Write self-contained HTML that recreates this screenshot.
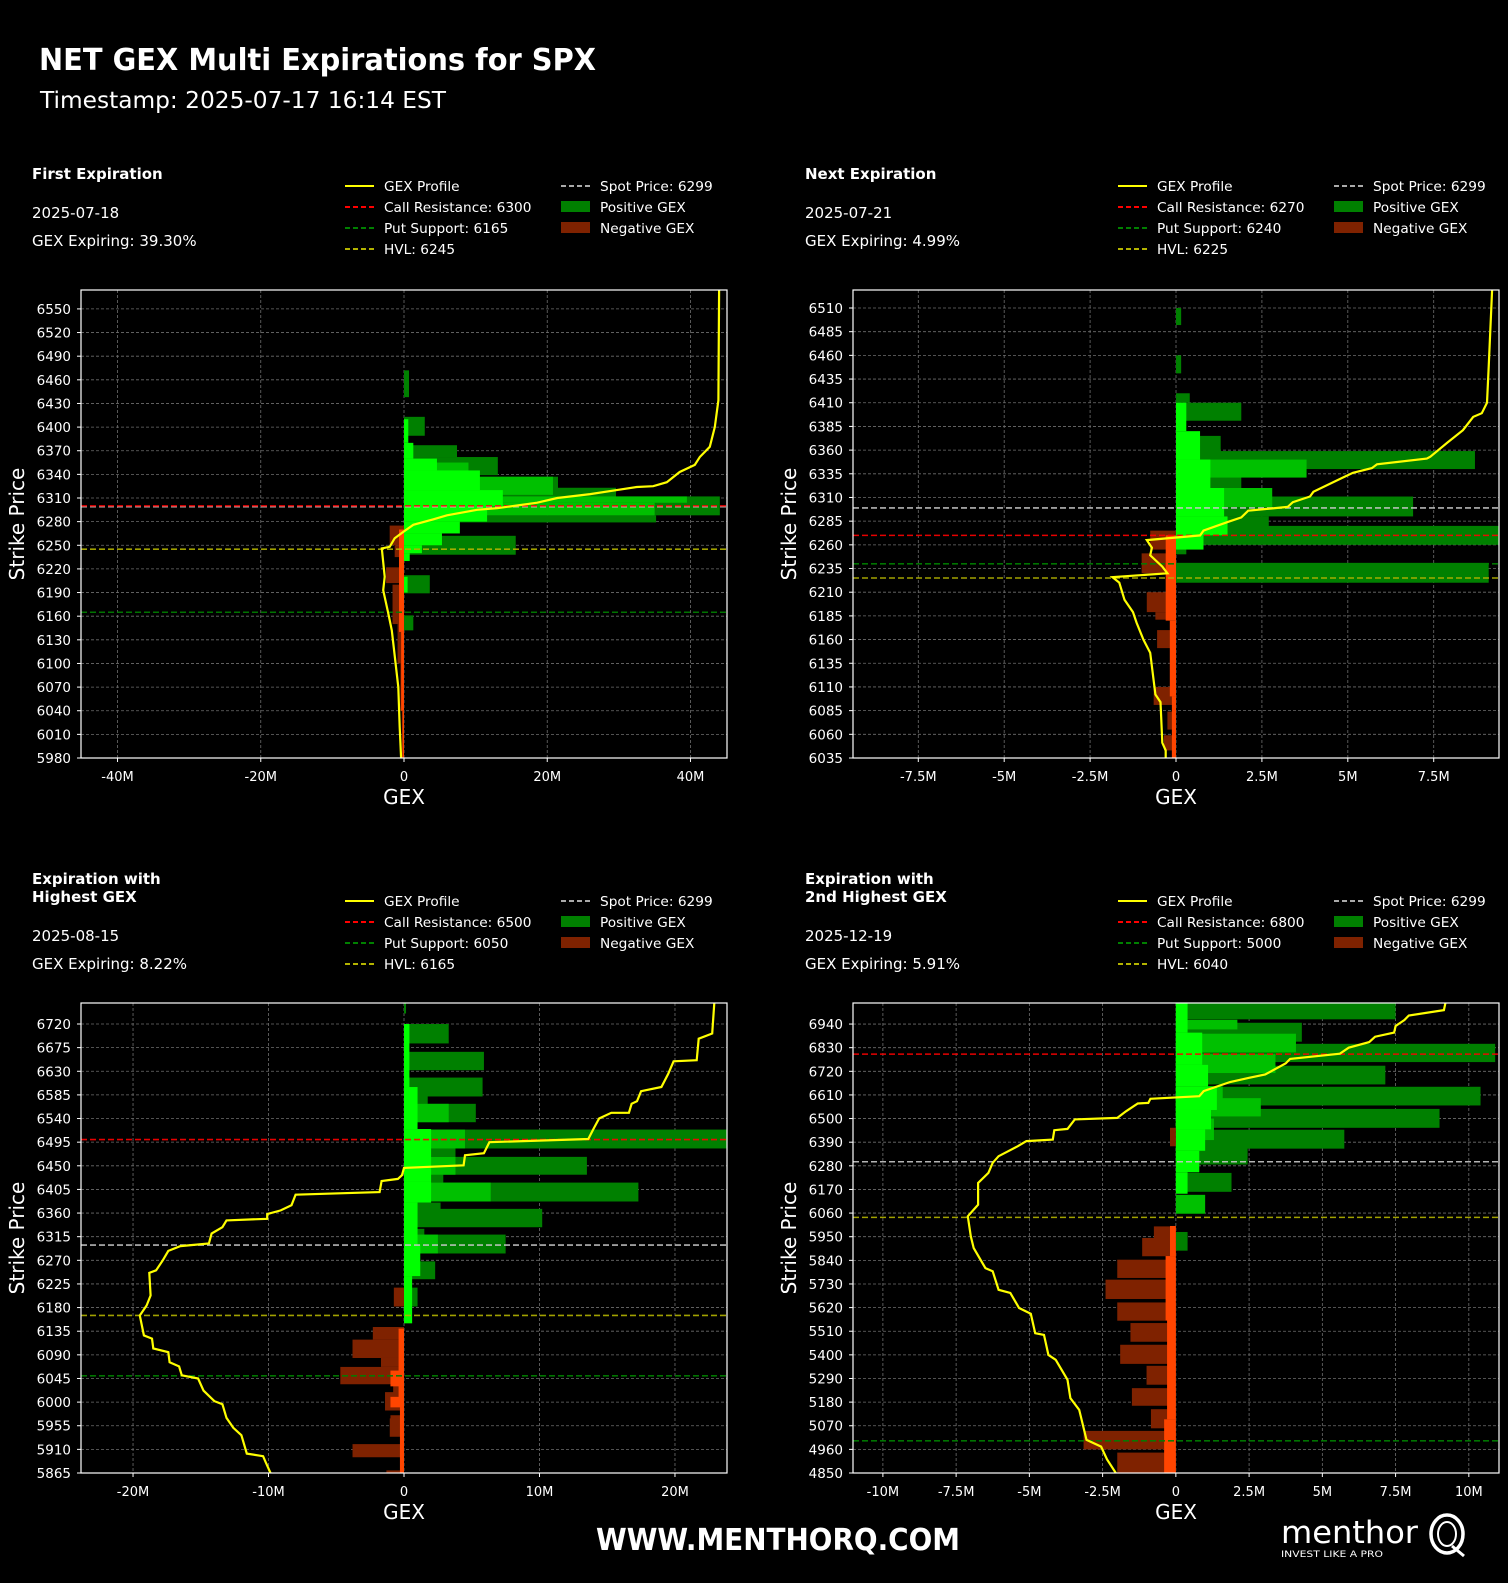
<!DOCTYPE html>
<html><head><meta charset="utf-8"><title>NET GEX Multi Expirations for SPX</title>
<style>
html,body{margin:0;padding:0;background:#000;}
svg{display:block;}
text{font-family:"DejaVu Sans","Liberation Sans",sans-serif;fill:#fff;}
</style></head>
<body>
<svg id="chart" width="1508" height="1583" viewBox="0 0 1508 1583" xmlns="http://www.w3.org/2000/svg">
<rect x="0" y="0" width="1508" height="1583" fill="#000"/>
<text x="39" y="70" font-size="30" font-weight="bold" textLength="557" lengthAdjust="spacingAndGlyphs">NET GEX Multi Expirations for SPX</text>
<text x="40" y="108" font-size="23" textLength="406" lengthAdjust="spacingAndGlyphs">Timestamp: 2025-07-17 16:14 EST</text>
<text x="778" y="1550" font-size="30" font-weight="bold" text-anchor="middle" textLength="364" lengthAdjust="spacingAndGlyphs">WWW.MENTHORQ.COM</text>
<g>
<text x="1281" y="1543" font-size="31" textLength="137" lengthAdjust="spacingAndGlyphs">menthor</text>
<text x="1281" y="1557" font-size="9" textLength="102" lengthAdjust="spacingAndGlyphs">INVEST LIKE A PRO</text>
<ellipse cx="1447" cy="1534" rx="16" ry="19" fill="none" stroke="#fff" stroke-width="3.5"/>
<ellipse cx="1447" cy="1534" rx="9" ry="12" fill="none" stroke="#fff" stroke-width="2"/>
<line x1="1452" y1="1546" x2="1464" y2="1556" stroke="#fff" stroke-width="3"/>
</g>
</svg>
<script>
// ---------- Panel 1 data (2025-07-18) ----------
const p1YTicks = [5980,6010,6040,6070,6100,6130,6160,6190,6220,6250,6280,6310,6340,6370,6400,6430,6460,6490,6520,6550];
const p1XTicks = [-40,-20,0,20,40];
const p1XLabels = ['-40M','-20M','0','20M','40M'];
const p1DarkPos = [[6438,6472,0.7],[6389,6413,2.9],[6362,6377,7.4],[6339,6362,13.1],[6314,6337,21.5],[6304,6323,29.6],[6288,6312,44.1],[6279,6288,35.2],[6238,6262,15.6],[6189,6212,3.6],[6142,6161,1.3]];
const p1MidPos = [[6304,6312,39.5],[6288,6304,35],[6314,6337,20.8],[6339,6355,9]];
const p1LimePos = [[6380,6410,0.6],[6360,6380,1.3],[6345,6360,4.6],[6320,6345,10.6],[6300,6320,13.8],[6280,6300,11.6],[6265,6280,7.8],[6250,6265,5.3],[6240,6250,2.5],[6230,6240,0.8],[6190,6210,0.5]];
const p1DarkNeg = [[6250,6275,-2.0],[6235,6250,-1.3],[6202,6222,-2.5],[6150,6200,-1.6],[6100,6150,-0.9],[6040,6100,-0.5],[5980,6040,-0.3]];
const p1BrightNeg = [[6140,6270,-0.7],[6040,6140,-0.4],[5980,6040,-0.2]];
const p1ProfileGex = [44.0,43.9,43.4,42.7,41.3,40.6,38.5,36.7,34.8,32.5,29.7,26.0,21.4,18.6,13.0,10.2,6.0,4.1,1.3,-0.1,-1.3,-2.0,-3.1,-2.7,-2.9,-2.2,-1.7,-0.8,-0.6,-0.4];
const p1ProfileStrike = [6575,6434,6400,6375,6362,6352,6343,6330,6325,6324,6320,6315,6310,6304,6297,6295,6288,6283,6276,6267,6259,6248,6246,6210,6193,6164,6142,6070,6019,5980];
const p1Levels = {spot:6299, call:6300, put:6165, hvl:6245};

// ---------- Panel 2 data (2025-07-21) ----------
const p2YTicks = [6035,6060,6085,6110,6135,6160,6185,6210,6235,6260,6285,6310,6335,6360,6385,6410,6435,6460,6485,6510];
const p2XTicks = [-7.5,-5,-2.5,0,2.5,5,7.5];
const p2XLabels = ['-7.5M','-5M','-2.5M','0','2.5M','5M','7.5M'];
const p2DarkPos = [[6492,6510,0.15],[6441,6460,0.15],[6410,6420,0.4],[6391,6410,1.9],[6355,6375,1.3],[6340,6359,8.7],[6320,6340,1.9],[6290,6311,6.9],[6271,6290,2.7],[6260,6280,9.4],[6250,6260,0.3],[6220,6241,9.1]];
const p2MidPos = [[6331,6350,3.8],[6300,6320,2.8]];
const p2LimePos = [[6380,6410,0.3],[6350,6380,0.7],[6320,6350,1.0],[6290,6320,1.4],[6270,6290,1.5],[6255,6270,0.8]];
const p2DarkNeg = [[6255,6275,-0.75],[6230,6251,-1.0],[6189,6210,-0.85],[6181,6189,-0.6],[6151,6170,-0.55],[6091,6110,-0.65],[6065,6084,-0.25],[6043,6059,-0.35]];
const p2BrightNeg = [[6180,6270,-0.3],[6100,6180,-0.18],[6035,6100,-0.12]];
const p2ProfileGex = [9.2,9.1,9.05,8.9,8.65,8.35,7.9,7.4,7.3,5.85,5.7,5.15,4.85,4.0,3.9,3.4,3.25,2.1,1.9,1.5,0.8,0.7,-0.85,-0.7,-0.75,-0.4,-0.25,-1.85,-1.65,-1.5,-1.25,-1.15,-0.95,-0.75,-0.6,-0.45,-0.4,-0.3,-0.3];
const p2ProfileStrike = [6529,6448,6410,6399,6395,6381,6368,6353,6351,6345,6341,6336,6331,6316,6311,6305,6300,6296,6289,6284,6275,6270,6265,6257,6249,6237,6230,6226,6220,6202,6189,6178,6160,6146,6102,6094,6051,6043,6035];
const p2Levels = {spot:6299, call:6270, put:6240, hvl:6225};

// ---------- Panel 3 data (2025-08-15) ----------
const p3YTicks = [5865,5910,5955,6000,6045,6090,6135,6180,6225,6270,6315,6360,6405,6450,6495,6540,6585,6630,6675,6720];
const p3XTicks = [-20,-10,0,10,20];
const p3XLabels = ['-20M','-10M','0','10M','20M'];
const p3DarkPos = [[6740,6760,0.15],[6683,6720,3.3],[6632,6667,5.9],[6582,6618,5.8],[6560,6600,1.75],[6533,6568,5.3],[6483,6519,23.8],[6467,6490,3.8],[6433,6467,13.5],[6418,6434,2.9],[6382,6418,17.3],[6360,6380,2.7],[6333,6368,10.2],[6310,6330,1.5],[6283,6319,7.5],[6234,6268,2.3],[6182,6218,1.0]];
const p3MidPos = [[6533,6568,3.3],[6483,6519,4.5],[6433,6467,3.8],[6382,6418,6.4],[6283,6319,2.5]];
const p3LimePos = [[6600,6720,0.4],[6520,6600,1.0],[6420,6520,2.0],[6380,6420,2.0],[6300,6380,1.0],[6240,6300,1.2],[6150,6240,0.6]];
const p3DarkNeg = [[6182,6218,-0.75],[6119,6143,-2.3],[6084,6119,-3.8],[6067,6084,-1.7],[6034,6067,-4.7],[6000,6034,-0.8],[5984,6019,-1.4],[5955,5975,-1.0],[5934,5969,-1.05],[5895,5920,-3.8],[5865,5870,-1.3]];
const p3BrightNeg = [[6000,6140,-0.4],[6030,6060,-1.0],[5865,6000,-0.3],[5990,6010,-1.0]];
const p3ProfileGex = [22.9,22.75,21.75,21.6,19.9,19.5,19.0,17.5,17.2,16.8,16.6,15.3,14.4,14.0,13.6,6.3,5.9,4.5,4.4,0.0,-0.15,-0.45,-1.65,-1.8,-8.0,-8.3,-9.1,-10.1,-10.1,-13.1,-13.4,-14.2,-14.4,-16.5,-17.4,-17.8,-18.3,-18.8,-18.7,-19.0,-19.5,-19.2,-18.6,-18.5,-17.4,-17.3,-16.6,-16.4,-15.2,-14.8,-14.0,-13.4,-13.1,-12.6,-12.0,-11.6,-10.4,-10.2,-9.85];
const p3ProfileStrike = [6760,6702,6692,6651,6649,6625,6600,6592,6573,6568,6551,6551,6540,6521,6501,6495,6474,6470,6451,6446,6432,6425,6421,6400,6395,6375,6365,6358,6349,6346,6333,6321,6302,6297,6288,6270,6251,6246,6203,6184,6165,6127,6121,6102,6095,6076,6068,6051,6045,6022,6002,5996,5970,5951,5937,5902,5897,5885,5865];
const p3Levels = {spot:6299, call:6500, put:6050, hvl:6165};

// ---------- Panel 4 data (2025-12-19) ----------
const p4YTicks = [4850,4960,5070,5180,5290,5400,5510,5620,5730,5840,5950,6060,6170,6280,6390,6500,6610,6720,6830,6940];
const p4XTicks = [-10,-7.5,-5,-2.5,0,2.5,5,7.5,10];
const p4XLabels = ['-10M','-7.5M','-5M','-2.5M','0','2.5M','5M','7.5M','10M'];
const p4DarkPos = [[6962,7040,7.5],[6858,6946,4.3],[6763,6848,10.9],[6659,6746,7.15],[6561,6648,10.4],[6457,6545,9.0],[6360,6448,5.75],[6286,6371,2.45],[6159,6247,1.9],[5885,5972,0.4]];
const p4MidPos = [[6915,6960,2.1],[6808,6895,4.1],[6712,6800,3.4],[6510,6595,2.9],[6057,6145,1.0],[6540,6650,1.6],[6400,6500,1.3]];
const p4LimePos = [[6900,7038,0.4],[6750,6900,0.9],[6650,6750,1.1],[6540,6650,1.4],[6450,6540,1.2],[6350,6450,1.0],[6250,6350,0.8],[6150,6250,0.4]];
const p4DarkNeg = [[6371,6457,-0.2],[5944,5998,-0.75],[5859,5944,-1.15],[5758,5843,-2.0],[5660,5750,-2.4],[5559,5644,-2.0],[5461,5548,-1.55],[5358,5447,-1.9],[5261,5349,-1.0],[5163,5245,-1.5],[5058,5147,-0.85],[4960,5046,-3.15],[4850,4945,-2.0]];
const p4BrightNeg = [[5860,6000,-0.2],[5560,5860,-0.35],[5100,5560,-0.3],[4850,5100,-0.4]];
const p4ProfileGex = [9.2,9.15,7.95,7.8,7.5,7.45,6.8,6.6,5.9,5.6,3.9,3.75,3.05,2.5,1.85,0.95,0.8,-0.87,-0.94,-1.3,-1.7,-2.0,-3.45,-3.7,-4.15,-4.2,-5.1,-5.4,-6.05,-6.25,-6.4,-6.75,-6.75,-6.9,-7.1,-7.0,-6.9,-6.5,-6.25,-6.05,-5.65,-5.35,-4.95,-4.8,-4.5,-4.35,-4.1,-3.7,-3.6,-3.3,-3.05,-2.55,-2.35,-2.05];
const p4ProfileStrike = [7038,7005,6980,6959,6931,6900,6881,6856,6830,6802,6778,6757,6705,6690,6670,6628,6604,6592,6573,6570,6534,6503,6496,6452,6446,6402,6395,6371,6325,6294,6247,6200,6099,6076,6045,5952,5897,5804,5789,5703,5688,5618,5591,5501,5493,5400,5377,5284,5198,5144,5004,4973,4914,4850];
const p4Levels = {spot:6299, call:6800, put:5000, hvl:6040};

const NS = 'http://www.w3.org/2000/svg';
const svg = document.getElementById('chart');
function mk(tag, attrs, parent){
  const e = document.createElementNS(NS, tag);
  for (const k in attrs) e.setAttribute(k, attrs[k]);
  (parent||svg).appendChild(e);
  return e;
}

const panels = [
  {id:'p1', x0:81, x1:727, y0:290, y1:758, xmin:-45.1, xmax:45.1, ymin:5980, ymax:6574, hx:32, hdr:['First Expiration'], date:'2025-07-18', pct:'39.30%', hy:179, ly:186,
   yt:p1YTicks, xt:p1XTicks, xl:p1XLabels, dp:p1DarkPos, mp:p1MidPos, lp:p1LimePos, dn:p1DarkNeg, bn:p1BrightNeg, pg:p1ProfileGex, ps:p1ProfileStrike, lv:p1Levels},
  {id:'p2', x0:853, x1:1499, y0:290, y1:758, xmin:-9.40, xmax:9.40, ymin:6035, ymax:6529, hx:805, hdr:['Next Expiration'], date:'2025-07-21', pct:'4.99%', hy:179, ly:186,
   yt:p2YTicks, xt:p2XTicks, xl:p2XLabels, dp:p2DarkPos, mp:p2MidPos, lp:p2LimePos, dn:p2DarkNeg, bn:p2BrightNeg, pg:p2ProfileGex, ps:p2ProfileStrike, lv:p2Levels},
  {id:'p3', x0:81, x1:727, y0:1003, y1:1473, xmin:-23.84, xmax:23.84, ymin:5865, ymax:6760, hx:32, hdr:['Expiration with','Highest GEX'], date:'2025-08-15', pct:'8.22%', hy:884, ly:901,
   yt:p3YTicks, xt:p3XTicks, xl:p3XLabels, dp:p3DarkPos, mp:p3MidPos, lp:p3LimePos, dn:p3DarkNeg, bn:p3BrightNeg, pg:p3ProfileGex, ps:p3ProfileStrike, lv:p3Levels},
  {id:'p4', x0:853, x1:1499, y0:1003, y1:1473, xmin:-11.02, xmax:11.03, ymin:4850, ymax:7038, hx:805, hdr:['Expiration with','2nd Highest GEX'], date:'2025-12-19', pct:'5.91%', hy:884, ly:901,
   yt:p4YTicks, xt:p4XTicks, xl:p4XLabels, dp:p4DarkPos, mp:p4MidPos, lp:p4LimePos, dn:p4DarkNeg, bn:p4BrightNeg, pg:p4ProfileGex, ps:p4ProfileStrike, lv:p4Levels}
];

panels.forEach(P => {
  const g = mk('g', {});
  
  
  const xs = v => P.x0 + (v - P.xmin) / (P.xmax - P.xmin) * (P.x1 - P.x0);
  const ys = p => P.y1 - (p - P.ymin) / (P.ymax - P.ymin) * (P.y1 - P.y0);

  let hy = P.hy;
  P.hdr.forEach((h, i) => {
    const t = mk('text', {x:P.hx, y:hy + i*18, 'font-size':15, 'font-weight':'bold'}, g);
    t.textContent = h;
    
    
  });
  const dy = P.hdr.length > 1 ? 18 : 0;
  const dt = mk('text', {x:P.hx, y:hy + 39 + dy, 'font-size':15}, g);
  dt.textContent = P.date;
  
  
  const pc = mk('text', {x:P.hx, y:hy + 67 + dy, 'font-size':15}, g);
  pc.textContent = 'GEX Expiring: ' + P.pct;
  
  

  const lx = P.hx + 313, lx2 = P.hx + 529;
  const leg = mk('g', {}, g);
  
  
  const items1 = [['GEX Profile','#ffff00',null],['Call Resistance: '+P.lv.call,'#ff0000','5,3'],['Put Support: '+P.lv.put,'#008000','5,3'],['HVL: '+P.lv.hvl,'#b3b300','5,3']];
  items1.forEach((it, i) => {
    const y = P.ly + i*21;
    const ln = mk('line', {x1:lx, x2:lx+29, y1:y, y2:y, stroke:it[1], 'stroke-width':2}, leg);
    if (it[2]) ln.setAttribute('stroke-dasharray', it[2]);
    
    
    const t = mk('text', {x:lx+39, y:y+5, 'font-size':13.7}, leg);
    t.textContent = it[0];
    
    
  });
  const sl = mk('line', {x1:lx2, x2:lx2+29, y1:P.ly, y2:P.ly, stroke:'#aaaaaa', 'stroke-width':2, 'stroke-dasharray':'5,3'}, leg);
  
  
  const st = mk('text', {x:lx2+39, y:P.ly+5, 'font-size':13.7}, leg);
  st.textContent = 'Spot Price: ' + P.lv.spot;
  
  
  [['Positive GEX','#008000'],['Negative GEX','#7f2200']].forEach((it, i) => {
    const y = P.ly + 21 + i*21;
    const r = mk('rect', {x:lx2, y:y-6, width:29, height:11, fill:it[1]}, leg);
    
    
    const t = mk('text', {x:lx2+39, y:y+5, 'font-size':13.7}, leg);
    t.textContent = it[0];
    
    
  });

  const cp = mk('clipPath', {id:'clip-'+P.id}, g);
  mk('rect', {x:P.x0, y:P.y0, width:P.x1-P.x0, height:P.y1-P.y0}, cp);
  const plot = mk('g', {'clip-path':'url(#clip-'+P.id+')'}, g);
  
  

  P.yt.forEach(v => {
    const l = mk('line', {x1:P.x0, x2:P.x1, y1:ys(v), y2:ys(v), stroke:'#6e6e6e', 'stroke-width':0.8, 'stroke-dasharray':'3,2'}, plot);
    
    
  });
  P.xt.forEach(v => {
    const l = mk('line', {x1:xs(v), x2:xs(v), y1:P.y0, y2:P.y1, stroke:'#6e6e6e', 'stroke-width':0.8, 'stroke-dasharray':'3,2'}, plot);
    
    
  });

  function bars(arr, color, name){
    arr.forEach(b => {
      const xa = xs(0), xb = xs(b[2]);
      const r = mk('rect', {x:Math.min(xa,xb), y:ys(b[1]), width:Math.abs(xb-xa), height:ys(b[0])-ys(b[1]), fill:color}, plot);
      
      
    });
  }
  bars(P.dp, '#008000', 'positive-gex-bar');
  bars(P.mp, '#00c000', 'positive-gex-bar');
  bars(P.lp, '#00ff00', 'positive-gex-bar');
  bars(P.dn, '#7f2200', 'negative-gex-bar');
  bars(P.bn, '#ff4500', 'negative-gex-bar');

  [['spot','#c8c8c8','spot-price-line'],['call','#ff0000','call-resistance-line'],['put','#008000','put-support-line'],['hvl','#b3b300','hvl-line']].forEach(r => {
    const y = ys(P.lv[r[0]]);
    const l = mk('line', {x1:P.x0, x2:P.x1, y1:y, y2:y, stroke:r[1], 'stroke-width':1.6, 'stroke-dasharray':'6,3', opacity:0.9}, plot);
    
    
  });

  const pts = P.pg.map((v, i) => xs(v).toFixed(1) + ',' + ys(P.ps[i]).toFixed(1)).join(' ');
  const pl = mk('polyline', {points:pts, fill:'none', stroke:'#ffff00', 'stroke-width':2.2}, plot);
  
  

  const fr = mk('rect', {x:P.x0, y:P.y0, width:P.x1-P.x0, height:P.y1-P.y0, fill:'none', stroke:'#fff', 'stroke-width':1.2}, g);
  
  

  P.yt.forEach(v => {
    const y = ys(v);
    const tk = mk('line', {x1:P.x0-4, x2:P.x0, y1:y, y2:y, stroke:'#fff', 'stroke-width':1}, g);
    
    
    const t = mk('text', {x:P.x0-10, y:y+5, 'font-size':13.5, 'text-anchor':'end'}, g);
    t.textContent = v;
    
    
  });
  P.xt.forEach((v, i) => {
    const x = xs(v);
    const tk = mk('line', {x1:x, x2:x, y1:P.y1, y2:P.y1+4, stroke:'#fff', 'stroke-width':1}, g);
    
    
    const t = mk('text', {x:x, y:P.y1+23, 'font-size':13, 'text-anchor':'middle'}, g);
    t.textContent = P.xl[i];
    
    
  });
  const xt = mk('text', {x:(P.x0+P.x1)/2, y:P.y1+46, 'font-size':20, 'text-anchor':'middle'}, g);
  xt.textContent = 'GEX';
  
  
  const cy = (P.y0+P.y1)/2, cx = P.x0 - 57;
  const yt = mk('text', {x:cx, y:cy, 'font-size':20, 'text-anchor':'middle', transform:'rotate(-90 '+cx+' '+cy+')'}, g);
  yt.textContent = 'Strike Price';
  
  
});
</script>
</body></html>
